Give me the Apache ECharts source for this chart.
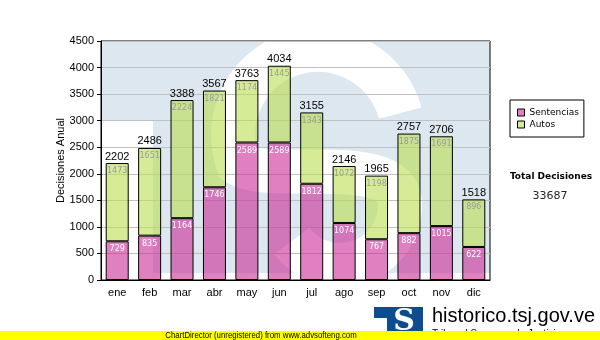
<!DOCTYPE html>
<html>
<head>
<meta charset="utf-8">
<script src="https://cdn.jsdelivr.net/npm/echarts@6/dist/echarts.min.js"></script>
<style>
html,body{margin:0;padding:0;background:#fff;}
#chart{width:600px;height:340px;}
</style>
</head>
<body>
<div id="chart"></div>
<script>
// ---- data ----
const categories = ['ene','feb','mar','abr','may','jun','jul','ago','sep','oct','nov','dic'];
const sentencias = [729, 835, 1164, 1746, 2589, 2589, 1812, 1074, 767, 882, 1015, 622];
const autos      = [1473, 1651, 2224, 1821, 1174, 1445, 1343, 1072, 1198, 1875, 1691, 896];
const yMin = 0, yMax = 4500, yStep = 500;
const seriesNames = ['Sentencias', 'Autos'];
const totalTitle = 'Total Decisiones';

const totals = sentencias.map((s, i) => s + autos[i]);
const grandTotal = totals.reduce((a, b) => a + b, 0);

// ---- layout ----
const G = {left: 101, top: 41, width: 389, height: 239};

function makeWatermark() {
  const c = document.createElement('canvas');
  c.width = G.width; c.height = G.height;
  const g = c.getContext('2d');
  g.fillStyle = '#fff'; g.fillRect(0, 0, G.width, G.height);
  g.translate(-G.left, -G.top);
  g.fillStyle = '#dde7f0';
  g.fillRect(G.left, G.top, G.width, 273 - G.top);
  g.fillStyle = '#fff';
  g.fillRect(G.left, 120, 153 - G.left, 273 - 120);
  g.strokeStyle = '#fff';
  g.lineWidth = 44;
  g.lineCap = 'butt';
  g.beginPath();
  g.arc(318, 135, 85, -0.26, 2.8, true);
  g.bezierCurveTo(270, 185, 400, 150, 400, 205);
  g.arc(340, 205, 60, 0, 2.5, false);
  g.stroke();
  return c;
}

const chart = echarts.init(document.getElementById('chart'), null, {renderer: 'canvas'});
const FONT = '"Liberation Sans", Arial, sans-serif';
const pink = 'rgba(203,43,150,0.6)', green = 'rgba(187,222,80,0.6)';
const pinkLegend = '#e080c0', greenLegend = '#d6eb98';

chart.setOption({
  animation: false,
  backgroundColor: '#fff',
  grid: {left: G.left, top: G.top, width: G.width, height: G.height, show: true,
         borderColor: '#000', borderWidth: 1, backgroundColor: 'transparent'},
  legend: {
    data: [
      {name: seriesNames[0], itemStyle: {color: pinkLegend}},
      {name: seriesNames[1], itemStyle: {color: greenLegend}}
    ],
    orient: 'vertical', left: 510, top: 100,
    borderColor: '#000', borderWidth: 1, borderRadius: 0,
    padding: [8, 5, 8, 7], itemGap: 3, itemWidth: 7, itemHeight: 7,
    icon: 'rect',
    itemStyle: {borderColor: '#000', borderWidth: 1},
    textStyle: {fontFamily: '"DejaVu Sans", sans-serif', fontSize: 9, color: '#000', lineHeight: 9}
  },
  xAxis: {
    type: 'category', data: categories,
    axisLine: {lineStyle: {color: '#000', width: 1}},
    axisTick: {alignWithLabel: true, length: 4, lineStyle: {color: '#000'}},
    axisLabel: {fontFamily: FONT, fontSize: 11, color: '#000', margin: 7},
    splitLine: {show: false}
  },
  yAxis: {
    type: 'value', min: yMin, max: yMax, interval: yStep,
    name: 'Decisiones Anual', nameLocation: 'middle', nameRotate: 90, nameGap: 35,
    nameMoveOverlap: false,
    nameTextStyle: {fontFamily: FONT, fontSize: 11, color: '#000'},
    axisLine: {show: true, lineStyle: {color: '#000', width: 1}},
    axisTick: {show: true, length: 4, lineStyle: {color: '#000'}},
    axisLabel: {fontFamily: FONT, fontSize: 11, color: '#000', margin: 7,
                formatter: v => String(v)},
    splitLine: {lineStyle: {color: '#c0c0c0', width: 1}}
  },
  series: [
    {
      name: seriesNames[0], type: 'bar', stack: 'd', data: sentencias, barWidth: 23,
      itemStyle: {color: pink, borderColor: '#000', borderWidth: 1},
      label: {show: true, position: 'insideTop', distance: 4, color: '#fff',
              fontFamily: '"DejaVu Sans", sans-serif', fontSize: 8}
    },
    {
      name: seriesNames[1], type: 'bar', stack: 'd', data: autos, barWidth: 23,
      itemStyle: {color: green, borderColor: '#000', borderWidth: 1},
      label: {show: true, position: 'insideTop', distance: 4, color: '#9a9a9a',
              fontFamily: '"DejaVu Sans", sans-serif', fontSize: 8}
    },
    {
      name: 'Total', type: 'bar', stack: 'd', data: totals.map(() => 0), barWidth: 23,
      itemStyle: {color: 'transparent', borderWidth: 0},
      label: {show: true, position: 'top', distance: 1, color: '#000',
              fontFamily: FONT, fontSize: 11,
              formatter: p => String(totals[p.dataIndex])},
      silent: true
    }
  ],
  graphic: [
    {type: 'image', z: -1, silent: true,
     style: {image: makeWatermark(), x: G.left, y: G.top, width: G.width, height: G.height}},
    {type: 'text', z: 10, style: {text: totalTitle, x: 551, y: 177, align: 'center', verticalAlign: 'middle',
      font: 'bold 9px "DejaVu Sans", sans-serif', fill: '#000'}},
    {type: 'text', z: 10, style: {text: String(grandTotal), x: 550, y: 196, align: 'center', verticalAlign: 'middle',
      font: '11px "DejaVu Sans", sans-serif', fill: '#222'}},
    // bottom logo
    {type: 'rect', z: 10, shape: {x: 374, y: 307, width: 49, height: 33}, style: {fill: '#0d4d8e'}},
    {type: 'rect', z: 11, shape: {x: 374, y: 318, width: 13, height: 13}, style: {fill: '#fff'}},
    {type: 'text', z: 11, style: {text: 'S', x: 404, y: 322, align: 'center', verticalAlign: 'middle',
      font: 'bold 30px "DejaVu Serif", serif', fill: '#fff'}},
    {type: 'text', z: 10, style: {text: 'historico.tsj.gov.ve', x: 432, y: 316, align: 'left', verticalAlign: 'middle',
      font: '20px "Liberation Sans", Arial, sans-serif', fill: '#000'}},
    {type: 'text', z: 10, style: {text: 'Tribunal Supremo de Justicia', x: 432, y: 329, align: 'left', verticalAlign: 'top',
      font: '10px "Liberation Sans", Arial, sans-serif', fill: '#000'}},
    {type: 'rect', z: 20, shape: {x: 0, y: 331, width: 600, height: 9}, style: {fill: '#ffff00'}},
    {type: 'text', z: 21, x: 261, y: 336, scaleX: 0.87,
     style: {text: 'ChartDirector (unregistered) from www.advsofteng.com', x: 0, y: 0,
      align: 'center', verticalAlign: 'middle', font: '9px "Liberation Sans", Arial, sans-serif', fill: '#000'}}
  ]
});
</script>
</body>
</html>
